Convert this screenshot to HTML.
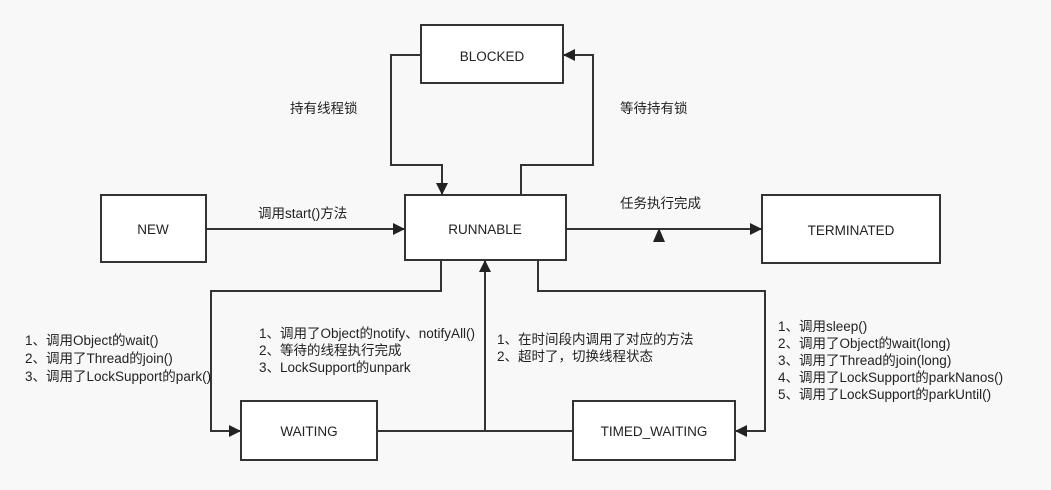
<!DOCTYPE html>
<html><head><meta charset="utf-8"><style>
body{margin:0;background:#f8f8f8;}
svg text{font-family:"Liberation Sans","Noto Sans CJK SC",sans-serif;font-size:13.5px;fill:#222;}
</style></head><body>
<svg width="1051" height="485" viewBox="0 0 1051 485" xmlns="http://www.w3.org/2000/svg">
<defs><marker id="a" markerWidth="12" markerHeight="12" refX="11" refY="6" orient="auto" markerUnits="userSpaceOnUse"><path d="M0,0 L12,6 L0,12z" fill="#222"/></marker></defs>
<g stroke="#333" stroke-width="2" fill="#fff">
<rect x="421" y="25" width="142" height="58"/>
<rect x="405" y="195" width="161" height="65"/>
<rect x="101" y="195" width="105" height="67"/>
<rect x="762" y="195" width="178" height="68"/>
<rect x="241" y="401" width="136" height="59"/>
<rect x="573" y="401" width="162" height="59"/>
</g>
<g stroke="#333" stroke-width="2" fill="none">
<path d="M421,55 H391 V165 H442 V194" marker-end="url(#a)"/>
<path d="M521,195 V165 H593 V55 H564" marker-end="url(#a)"/>
<path d="M206,229 H404" marker-end="url(#a)"/>
<path d="M566,229 H761" marker-end="url(#a)"/>
<path d="M441,260 V291 H211 V431 H240" marker-end="url(#a)"/>
<path d="M538,260 V291 H765 V431 H736" marker-end="url(#a)"/>
<path d="M377,431 H573"/>
<path d="M485,431 V261" marker-end="url(#a)"/>
</g>
<path d="M653,242 L659,228 L665,242z" fill="#222"/>
<g text-anchor="middle">
<text x="492" y="61">BLOCKED</text>
<text x="485" y="234">RUNNABLE</text>
<text x="153" y="234">NEW</text>
<text x="851" y="235">TERMINATED</text>
<text x="309" y="436">WAITING</text>
<text x="654" y="436">TIMED_WAITING</text>
</g>
<text x="290" y="113">持有线程锁</text>
<text x="620" y="113">等待持有锁</text>
<text x="258" y="218">调用start()方法</text>
<text x="620" y="208">任务执行完成</text>
<text x="25" y="345">1、调用Object的wait()</text>
<text x="25" y="363">2、调用了Thread的join()</text>
<text x="25" y="381">3、调用了LockSupport的park()</text>
<text x="259" y="338">1、调用了Object的notify、notifyAll()</text>
<text x="259" y="355">2、等待的线程执行完成</text>
<text x="259" y="372">3、LockSupport的unpark</text>
<text x="497" y="344">1、在时间段内调用了对应的方法</text>
<text x="497" y="361">2、超时了，切换线程状态</text>
<text x="778" y="331">1、调用sleep()</text>
<text x="778" y="348">2、调用了Object的wait(long)</text>
<text x="778" y="365">3、调用了Thread的join(long)</text>
<text x="778" y="382">4、调用了LockSupport的parkNanos()</text>
<text x="778" y="399">5、调用了LockSupport的parkUntil()</text>
</svg>
</body></html>
